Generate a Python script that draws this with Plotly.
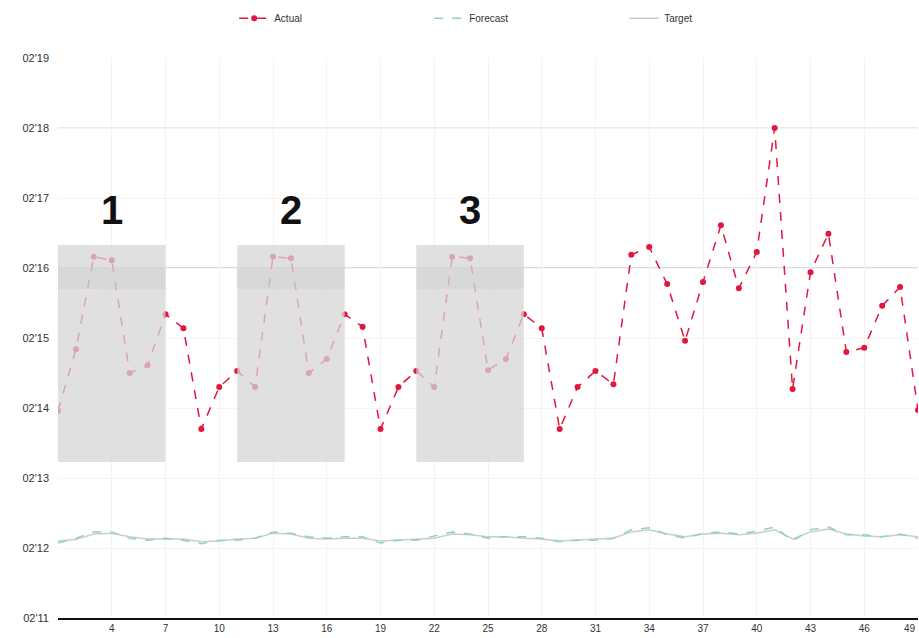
import plotly.graph_objects as go

x_vals = list(range(1, 50))
actual = [2.96, 3.84, 5.16, 5.11, 3.50, 3.61, 4.34, 4.14, 2.70, 3.30,
          3.53, 3.30, 5.16, 5.14, 3.50, 3.70, 4.34, 4.16, 2.70, 3.30,
          3.53, 3.30, 5.16, 5.14, 3.54, 3.70, 4.34, 4.14, 2.70, 3.30,
          3.53, 3.34, 5.19, 5.30, 4.77, 3.96, 4.80, 5.61, 4.71, 5.23,
          7.00, 3.27, 4.94, 5.49, 3.80, 3.86, 4.46, 4.73, 2.97]
forecast = [1.07, 1.14, 1.23, 1.23, 1.14, 1.11, 1.14, 1.11, 1.06, 1.11,
            1.11, 1.14, 1.23, 1.21, 1.16, 1.14, 1.16, 1.16, 1.07, 1.11,
            1.11, 1.17, 1.23, 1.20, 1.14, 1.16, 1.16, 1.14, 1.09, 1.11,
            1.11, 1.14, 1.26, 1.29, 1.19, 1.14, 1.21, 1.23, 1.20, 1.24,
            1.30, 1.10, 1.26, 1.30, 1.19, 1.19, 1.16, 1.20, 1.14]
plan = [1.10, 1.12, 1.20, 1.21, 1.16, 1.13, 1.13, 1.13, 1.09, 1.10,
        1.13, 1.14, 1.21, 1.20, 1.14, 1.13, 1.14, 1.14, 1.10, 1.11,
        1.13, 1.14, 1.20, 1.19, 1.16, 1.16, 1.14, 1.13, 1.10, 1.12,
        1.13, 1.14, 1.23, 1.26, 1.20, 1.16, 1.20, 1.21, 1.19, 1.21,
        1.26, 1.13, 1.23, 1.27, 1.20, 1.17, 1.16, 1.19, 1.16]
series_names = ["Actual", "Forecast", "Target"]
y_tickvals = [0, 1, 2, 3, 4, 5, 6, 7, 8]
y_ticktext = ["02'11", "02'12", "02'13", "02'14", "02'15", "02'16", "02'17", "02'18", "02'19"]
x_tickvals = list(range(4, 50, 3))
x_ticktext = [str(v) for v in x_tickvals]
regions = [(1, 7, "1"), (11, 17, "2"), (21, 27, "3")]
region_y = (2.23, 5.33)

fig = go.Figure()
fig.add_trace(go.Scatter(x=x_vals, y=plan, name=series_names[2], mode="lines",
                         line=dict(color="#cccccc", width=1.5)))
fig.add_trace(go.Scatter(x=x_vals, y=forecast, name=series_names[1], mode="lines",
                         line=dict(color="#8fd3c4", width=1.5, dash="dash")))
fig.add_trace(go.Scatter(x=x_vals, y=actual, name=series_names[0], mode="lines+markers",
                         line=dict(color="#e3163f", width=1.5, dash="dash"),
                         marker=dict(color="#e3163f", size=6)))

shapes = []
annotations = []
for x0, x1, lab in regions:
    shapes.append(dict(type="rect", xref="x", yref="y", x0=x0, x1=x1,
                       y0=region_y[0], y1=region_y[1], fillcolor="#d6d6d6",
                       opacity=0.75, line=dict(width=0), layer="above"))
    shapes.append(dict(type="rect", xref="x", yref="y", x0=x0, x1=x1,
                       y0=4.7, y1=5.0, fillcolor="#c8c8c8",
                       opacity=0.35, line=dict(width=0), layer="above"))
    annotations.append(dict(x=(x0 + x1) / 2, y=5.83, xref="x", yref="y",
                            text="<b>" + lab + "</b>",
                            showarrow=False, font=dict(size=40, color="#111111",
                                                       family="Liberation Sans")))
shapes.append(dict(type="line", xref="paper", yref="y", x0=0, x1=1, y0=7, y1=7,
                   line=dict(color="#e4e4e4", width=1.5), layer="below"))
shapes.append(dict(type="line", xref="paper", yref="y", x0=0, x1=1, y0=5, y1=5,
                   line=dict(color="#cfcfcf", width=1.5), layer="below"))
# last tick label sits at the right edge of the plot
annotations.append(dict(x=x_vals[-1], y=0, xref="x", yref="paper", text=str(x_vals[-1]),
                        showarrow=False, yanchor="top", xanchor="right", yshift=-3,
                        font=dict(size=10, color="#333333")))

fig.update_layout(
    width=919, height=638,
    margin=dict(l=58, r=1, t=58, b=20, autoexpand=False),
    paper_bgcolor="white", plot_bgcolor="white",
    font=dict(family="Liberation Sans", size=10, color="#333333"),
    shapes=shapes, annotations=annotations,
    legend=dict(orientation="h", x=0.545, xanchor="center", y=0.994, yanchor="top",
                yref="container", traceorder="reversed",
                entrywidth=150, font=dict(size=10)),
    showlegend=True,
)
fig.update_xaxes(range=[1, 49], tickvals=x_tickvals, ticktext=x_ticktext,
                 showgrid=True, gridcolor="#f3f3f3", zeroline=False,
                 showline=True, linecolor="#111111", linewidth=2,
                 ticks="", tickfont=dict(size=10, color="#333333"))
fig.update_yaxes(range=[0, 8], tickvals=y_tickvals, ticktext=y_ticktext,
                 showgrid=True, gridcolor="#f5f5f5", zeroline=False,
                 showline=False, ticks="", ticklabelstandoff=8,
                 tickfont=dict(size=11, color="#333333"))

fig.write_html("out.html", config={"displayModeBar": False},
               post_script="document.body.style.margin='0';document.body.style.overflow='hidden';")
